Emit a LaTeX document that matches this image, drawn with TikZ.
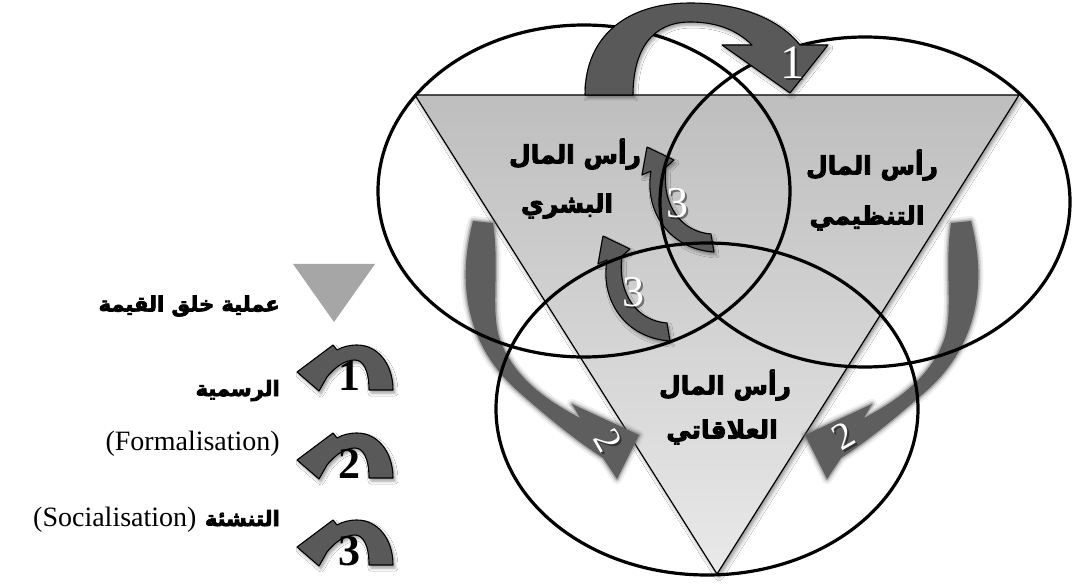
\documentclass[tikz,border=0pt]{standalone}
\usepackage{fontspec}
\setmainfont{Liberation Serif}
\newfontfamily\arabicfont[Script=Arabic, BoldFeatures={FakeBold=3.5}]{DejaVu Sans}
\TeXXeTstate=1
\usetikzlibrary{shadows.blur}

\definecolor{bandgray}{HTML}{595959}
\definecolor{hazegray}{HTML}{5E5E5E}
\definecolor{keygray}{HTML}{A6A6A6}
\definecolor{wedgetop}{HTML}{BEBEBE}
\definecolor{wedgebottom}{HTML}{E9E9E9}

\tikzset{
  ring/.style={draw=black, line width=3.2pt},
  wedge/.style={draw=black, line width=1.2pt, top color=wedgetop, bottom color=wedgebottom,
    blur shadow={shadow xshift=2pt, shadow yshift=-3pt, shadow blur radius=4pt, shadow opacity=45}},
  bandarrow/.style={fill=bandgray, draw=black, line width=1.1pt, line join=round,
    blur shadow={shadow xshift=2pt, shadow yshift=-3pt, shadow blur radius=3pt, shadow opacity=40}},
  arlabel/.style={font=\arabicfont\bfseries\fontsize{25}{29}\selectfont, inner sep=0pt},
  keylabel/.style={font=\arabicfont\bfseries\fontsize{21}{25}\selectfont, inner sep=0pt},
  latinlabel/.style={font=\fontsize{28}{32}\selectfont, inner sep=0pt},
  whitedigit/.style={font=\fontsize{#1}{#1}\selectfont, text=white, inner sep=0pt},
  digitshade/.style={font=\fontsize{#1}{#1}\selectfont, text=black, opacity=0.45, inner sep=0pt},
  keydigit/.style={font=\bfseries\fontsize{44}{44}\selectfont, text=black, inner sep=0pt},
}

% soft-edged curved arrow (left copy; the right one is its mirror image)
\newcommand\hazyarrow[1]{%
  \path[#1] (473,221) .. controls (455,290) and (470,350) .. (520,393)
    .. controls (545,415) and (575,440) .. (603,458) -- (617,479) -- (639,435)
    -- (572,404) -- (580,418) .. controls (550,402) and (515,380) .. (500,340)
    .. controls (490,310) and (500,270) .. (493,223) -- cycle;}

\newcommand\hazystack{%
  \hazyarrow{draw=hazegray, line width=10pt, opacity=0.10, line join=round}
  \hazyarrow{draw=hazegray, line width=6pt, opacity=0.18, line join=round}
  \hazyarrow{draw=hazegray, line width=3pt, opacity=0.35, line join=round}
  \hazyarrow{fill=hazegray}}

% small turning arrow carrying a "3"
\newcommand\turnthree[3]{%
  \begin{scope}[shift={(#1,#2)}]
    \path[bandarrow] (607,260) -- (598,264) -- (603,236) -- (630,249) -- (622,256)
      .. controls (617,295) and (638,321) .. (667,323) -- (670,341)
      .. controls (625,338) and (600,300) .. (607,260) -- cycle;
    \node[digitshade=44] (#3s) at (635,294) {3};
    \node[whitedigit=44] (#3) at (633,292) {3};
  \end{scope}}

% legend arrow with a black digit
\newcommand\keyarrow[4]{%
  \begin{scope}[shift={(#1,#2)}]
    \path[bandarrow] (96,45) .. controls (96,18) and (80,0) .. (60,0)
      .. controls (52,0) and (45,2) .. (40,5) -- (36,0) -- (0,27) -- (22,46) -- (30,32)
      .. controls (38,22) and (48,15) .. (58,15) .. controls (66,15) and (72,25) .. (72,45) -- cycle;
    \node[keydigit] (#4) at (52,31) {#3};
  \end{scope}}

\begin{document}
\begin{tikzpicture}[x=1pt,y=-1pt]
\useasboundingbox (0,0) rectangle (1073,585);
\fill[white] (0,0) rectangle (1073,585);

% the inverted value-creation wedge
\path[wedge] (415,95) -- (1019,95) -- (717,574) -- cycle;

% soft arrows labelled 2
\hazystack
\begin{scope}[shift={(1444,0)}, xscale=-1]
  \hazystack
\end{scope}
\node[digitshade=38, rotate=-60] (twoLs) at (610,442) {2};
\node[whitedigit=38, rotate=-60] (twoL) at (608,440) {2};
\node[digitshade=38, rotate=30] (twoRs) at (845,438) {2};
\node[whitedigit=38, rotate=30] (twoR) at (843,436) {2};

% two small arrows labelled 3
\turnthree{0}{0}{threeLow}
\turnthree{44}{-89}{threeUp}

% the three capital circles
\draw[ring] (584,191) ellipse [x radius=206, y radius=166];
\draw[ring] (865,202) ellipse [x radius=205, y radius=165];
\draw[ring] (707,409) ellipse [x radius=211, y radius=166];

% big arrow labelled 1
\path[bandarrow] (585,95) .. controls (585,35) and (628,3) .. (690,3)
  .. controls (742,3) and (780,20) .. (800,45) -- (828,45) -- (790,93) -- (722,45) -- (752,45)
  .. controls (735,28) and (713,22) .. (690,22) .. controls (652,22) and (633,50) .. (633,95) -- cycle;
\node[digitshade=48] (ones) at (794,65) {1};
\node[whitedigit=48] (one) at (792,63) {1};

% circle labels
\node[arlabel] (humanA) at (575,154) {\beginR رأس المال\endR};
\node[arlabel] (humanB) at (567,206) {\beginR البشري\endR};
\node[arlabel] (orgA) at (872,165) {\beginR رأس المال\endR};
\node[arlabel] (orgB) at (867,218) {\beginR التنظيمي\endR};
\node[arlabel] (relA) at (725,385) {\beginR رأس المال\endR};
\node[arlabel] (relB) at (722,432) {\beginR العلاقاتي\endR};

% legend
\fill[keygray] (293,264) -- (375,264) -- (334,322) -- cycle;
\node[keylabel, anchor=east] (keyValue) at (280,306) {\beginR عملية خلق القيمة\endR};
\keyarrow{297}{345}{1}{keyOne}
\keyarrow{297}{433}{2}{keyTwo}
\keyarrow{297}{520}{3}{keyThree}
\node[keylabel, anchor=base east] (keyForm) at (280,396) {\beginR الرسمية\endR};
\node[latinlabel, anchor=base east] (keyFormLat) at (280,450) {(Formalisation)};
\node[keylabel, anchor=base east] (keySoc) at (280,526) {\beginR التنشئة\endR};
\node[latinlabel, anchor=base east] (keySocLat) at ([xshift=-8pt]keySoc.base west) {(Socialisation)};
\end{tikzpicture}
\end{document}
